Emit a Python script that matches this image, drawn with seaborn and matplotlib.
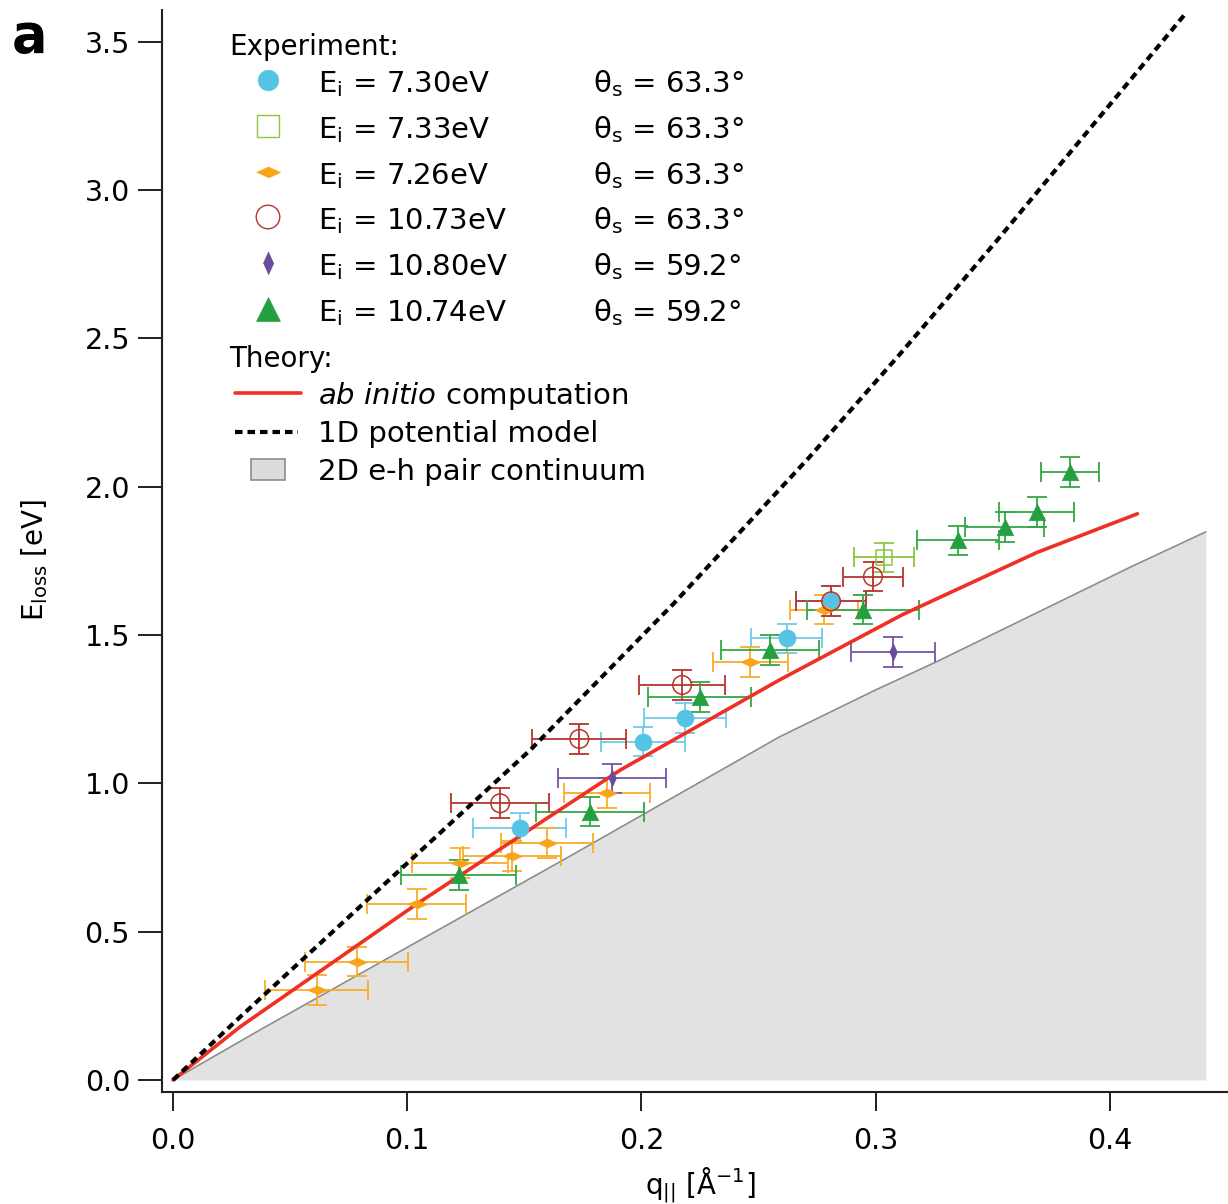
import matplotlib
matplotlib.use("Agg")
import matplotlib.pyplot as plt
from matplotlib.patches import Rectangle
import seaborn as sns

# ---- theory curves ----
abinitio_q = [0.0, 0.0286, 0.104, 0.191, 0.259, 0.3115, 0.369, 0.4118]
abinitio_E = [0.0, 0.179, 0.593, 1.045, 1.349, 1.569, 1.779, 1.909]

model1d_q = [0.0, 0.0286, 0.1526, 0.214, 0.2714, 0.3107, 0.352, 0.396, 0.4325]
model1d_E = [0.0, 0.212, 1.113, 1.608, 2.097, 2.45, 2.832, 3.25, 3.597]

continuum_q = [0.0, 0.0385, 0.168, 0.259, 0.30, 0.326, 0.409, 0.441]
continuum_E = [0.0, 0.175, 0.748, 1.157, 1.315, 1.41, 1.73, 1.848]

# ---- experiment ----
ei730_q = [0.148, 0.2008, 0.2188, 0.262, 0.281]
ei730_E = [0.85, 1.141, 1.22, 1.489, 1.614]
ei730_dq = [0.020, 0.018, 0.0175, 0.015, 0.015]
ei730_dE = [0.05, 0.05, 0.05, 0.05, 0.05]

ei733_q = [0.3036]
ei733_E = [1.762]
ei733_dq = [0.013]
ei733_dE = [0.05]

ei726_q = [0.0614, 0.0785, 0.104, 0.1226, 0.1447, 0.1597, 0.1853, 0.2465, 0.278]
ei726_E = [0.303, 0.399, 0.593, 0.731, 0.755, 0.80, 0.967, 1.41, 1.586]
ei726_dq = [0.022, 0.022, 0.021, 0.0205, 0.021, 0.0197, 0.0185, 0.016, 0.0145]
ei726_dE = [0.05, 0.05, 0.05, 0.05, 0.05, 0.05, 0.05, 0.05, 0.05]

ei1073_q = [0.1397, 0.1735, 0.2174, 0.281, 0.2989]
ei1073_E = [0.933, 1.15, 1.332, 1.614, 1.697]
ei1073_dq = [0.021, 0.020, 0.0185, 0.015, 0.013]
ei1073_dE = [0.05, 0.05, 0.05, 0.05, 0.05]

ei1080_q = [0.1875, 0.3075]
ei1080_E = [1.017, 1.444]
ei1080_dq = [0.023, 0.018]
ei1080_dE = [0.05, 0.05]

ei1074_q = [0.122, 0.178, 0.225, 0.255, 0.2946, 0.3353, 0.3551, 0.3688, 0.383]
ei1074_E = [0.691, 0.905, 1.292, 1.45, 1.586, 1.819, 1.864, 1.915, 2.051]
ei1074_dq = [0.0246, 0.023, 0.022, 0.021, 0.024, 0.0176, 0.017, 0.016, 0.0124]
ei1074_dE = [0.05, 0.05, 0.05, 0.05, 0.05, 0.05, 0.05, 0.05, 0.05]

energy_labels = ["7.30", "7.33", "7.26", "10.73", "10.80", "10.74"]
angle_labels = ["63.3", "63.3", "63.3", "63.3", "59.2", "59.2"]

flat_diamond = [(-1, 0), (0, 0.45), (1, 0), (0, -0.45)]
tall_diamond = [(-0.45, 0), (0, 1), (0.45, 0), (0, -1)]

series = [
    dict(q=ei730_q, E=ei730_E, dq=ei730_dq, dE=ei730_dE, marker="o", s=150,
         color="#55c4e4", ecolor="#6ecbec", filled=True),
    dict(q=ei733_q, E=ei733_E, dq=ei733_dq, dE=ei733_dE, marker="s", s=120,
         color="#8dc63f", ecolor="#8dc63f", filled=False),
    dict(q=ei726_q, E=ei726_E, dq=ei726_dq, dE=ei726_dE, marker=flat_diamond, s=200,
         color="#f8a51c", ecolor="#f9ad2a", filled=True),
    dict(q=ei1073_q, E=ei1073_E, dq=ei1073_dq, dE=ei1073_dE, marker="o", s=180,
         color="#b8342d", ecolor="#b8342d", filled=False),
    dict(q=ei1080_q, E=ei1080_E, dq=ei1080_dq, dE=ei1080_dE, marker=tall_diamond, s=150,
         color="#6a4c9c", ecolor="#7456a6", filled=True),
    dict(q=ei1074_q, E=ei1074_E, dq=ei1074_dq, dE=ei1074_dE, marker="^", s=140,
         color="#24a040", ecolor="#34a845", filled=True),
]
legend_scale = [1.45, 2.1, 1.5, 1.6, 1.8, 2.1]

sns.set_style("ticks")
plt.rcParams["font.family"] = ["DejaVu Sans"]
plt.rcParams["mathtext.fontset"] = "dejavusans"
plt.rcParams["text.color"] = "black"
plt.rcParams["axes.labelcolor"] = "black"
plt.rcParams["xtick.color"] = "black"
plt.rcParams["ytick.color"] = "black"

W, H = 1228, 1204
fig = plt.figure(figsize=(W / 100, H / 100), dpi=100)
ax = fig.add_axes([162 / W, 1 - 1092 / H, (W - 162) / W, (1092 - 10) / H])

# continuum
ax.fill_between(continuum_q, 0, continuum_E, color="#e2e2e2", lw=0, zorder=0)
sns.lineplot(x=continuum_q, y=continuum_E, color="#8c8c8c", lw=1.2, sort=False,
             estimator=None, ax=ax, zorder=1)

# error bars and markers
for sr in series:
    ax.errorbar(sr["q"], sr["E"], xerr=sr["dq"], yerr=sr["dE"], fmt="none",
                ecolor=sr["ecolor"], elinewidth=1.3, capsize=7.5, capthick=1.3, zorder=2)

sns.lineplot(x=abinitio_q, y=abinitio_E, color="#ee3124", lw=2.6, sort=False,
             estimator=None, ax=ax, zorder=3)
sns.lineplot(x=model1d_q, y=model1d_E, color="black", lw=3.0, sort=False,
             estimator=None, ax=ax, zorder=3, linestyle=(0, (1.8, 1.2)))

for sr in series:
    if sr["filled"]:
        sns.scatterplot(x=sr["q"], y=sr["E"], marker=sr["marker"], s=sr["s"],
                        color=sr["color"], edgecolor=sr["color"], linewidth=0.5,
                        ax=ax, zorder=4, legend=False)
    else:
        sns.scatterplot(x=sr["q"], y=sr["E"], marker=sr["marker"], s=sr["s"],
                        facecolor="none", edgecolor=sr["color"], linewidth=1.1,
                        ax=ax, zorder=4, legend=False)

ax.set_xlim(-11 / 2343, (W - 172.5) / 2343)
ax.set_ylim(-12 / 296.6, 1070 / 296.6)
ax.set_xticks([0.0, 0.1, 0.2, 0.3, 0.4])
ax.set_xticklabels(["0.0", "0.1", "0.2", "0.3", "0.4"])
ax.set_yticks([0.0, 0.5, 1.0, 1.5, 2.0, 2.5, 3.0, 3.5])
ax.set_yticklabels(["0.0", "0.5", "1.0", "1.5", "2.0", "2.5", "3.0", "3.5"])
ax.tick_params(axis="x", direction="out", length=14, width=1.4, pad=11,
               labelsize=20.5, color="#231f20")
ax.tick_params(axis="y", direction="out", length=17, width=1.4, pad=6,
               labelsize=20.5, color="#231f20")
sns.despine(ax=ax)
for side in ["left", "bottom"]:
    ax.spines[side].set_linewidth(1.5)
    ax.spines[side].set_color("#231f20")

# ---- legend and labels in pixel coordinates ----
ov = fig.add_axes([0, 0, 1, 1], zorder=5)
ov.set_xlim(0, W)
ov.set_ylim(H, 0)
ov.axis("off")

ov.text(12, 52, "a", fontsize=38, fontweight="bold", va="baseline")
ov.text(229, 55, "Experiment:", fontsize=20, va="baseline")
row_y = [80, 126, 172, 217, 263, 309]
for sr, y, en, an, k in zip(series, row_y, energy_labels, angle_labels, legend_scale):
    if sr["filled"]:
        sns.scatterplot(x=[268], y=[y], marker=sr["marker"], s=sr["s"] * k,
                        color=sr["color"], edgecolor=sr["color"], linewidth=0.5,
                        ax=ov, legend=False, clip_on=False)
    else:
        sns.scatterplot(x=[268], y=[y], marker=sr["marker"], s=sr["s"] * k,
                        facecolor="none", edgecolor=sr["color"], linewidth=1.0,
                        ax=ov, legend=False, clip_on=False)
    ov.text(318, y + 12, r"E$_\mathregular{i}$ = " + en + "eV", fontsize=21, va="baseline")
    ov.text(593, y + 12, r"θ$_\mathregular{s}$ = " + an + "°", fontsize=21, va="baseline")

ov.text(229, 367, "Theory:", fontsize=20, va="baseline")
ov.plot([235, 301], [393, 393], color="#ee3124", lw=2.6)
ov.text(318, 404, r"$\mathit{ab\ initio}$ computation", fontsize=21, va="baseline")
ov.plot([235, 298], [432, 432], color="black", lw=3.0, linestyle=(0, (1.8, 1.2)))
ov.text(318, 442, "1D potential model", fontsize=21, va="baseline")
ov.add_patch(Rectangle((251, 459), 34, 21, facecolor="#dcdcdc", edgecolor="#8c8c8c", lw=1.2))
ov.text(318, 480, "2D e-h pair continuum", fontsize=21, va="baseline")

ov.text(35, 560, r"E$_\mathregular{loss}$ [eV]", fontsize=20, rotation=90,
        ha="center", va="center")
ov.text(700, 1194, r"q$_\mathregular{||}$ [Å$^\mathregular{-1}$]", fontsize=20,
        ha="center", va="baseline")

fig.savefig("out.png", dpi=100, facecolor="white")
